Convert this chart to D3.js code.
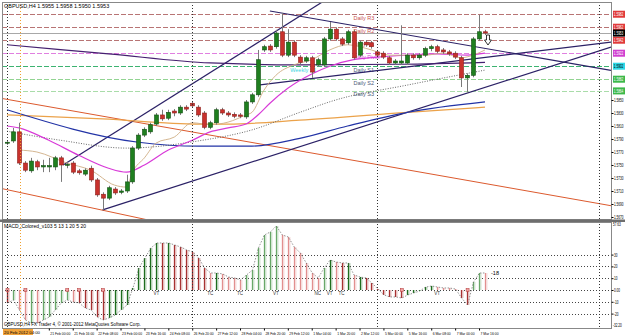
<!DOCTYPE html>
<html>
<head>
<meta charset="utf-8">
<title>GBPUSD,H4</title>
<script src="https://d3js.org/d3.v7.min.js"></script>
<style>
    body, html { margin: 0; padding: 0; background: #fff; }
    svg { display: block; font-family: "Liberation Sans", Arial, sans-serif; }
    .tick line { stroke: #000; }
</style>
</head>
<body>
<svg id="chart" width="625" height="335"></svg>
<script>
// H4 bars, bar 0 = Sun 19 Feb 2012 20:00
const opens = [1.5784,1.5787,1.5801,1.5753,1.5741,1.5755,1.5747,1.5747,1.5747,1.5761,1.5750,1.5753,1.5741,1.5736,1.5745,1.5727,1.5705,1.5699,1.5713,1.5708,1.5710,1.5724,1.5776,1.5796,1.5801,1.5813,1.5827,1.5822,1.5833,1.5830,1.5839,1.5845,1.5839,1.5830,1.5808,1.5815,1.5835,1.5830,1.5828,1.5827,1.5824,1.5847,1.5858,1.5927,1.5933,1.5932,1.5955,1.5919,1.5939,1.5916,1.5910,1.5915,1.5904,1.5904,1.5944,1.5959,1.5944,1.5938,1.5955,1.5919,1.5939,1.5938,1.5924,1.5922,1.5915,1.5907,1.5907,1.5907,1.5919,1.5915,1.5919,1.5929,1.5932,1.5927,1.5924,1.5922,1.5915,1.5884,1.5888,1.5944,1.5955];
const highs = [1.5788,1.5807,1.5815,1.5756,1.5761,1.5758,1.5758,1.5761,1.5764,1.5764,1.5755,1.5756,1.5744,1.5745,1.5749,1.5730,1.5708,1.5718,1.5716,1.5713,1.5735,1.5779,1.5799,1.5808,1.5815,1.5830,1.5835,1.5835,1.5836,1.5842,1.5842,1.5848,1.5842,1.5833,1.5818,1.5838,1.5838,1.5833,1.5831,1.5830,1.5850,1.5861,1.5927,1.5935,1.5936,1.5958,1.5984,1.5959,1.5942,1.5919,1.5918,1.5918,1.5915,1.5947,1.5970,1.5962,1.5947,1.5958,1.5958,1.5942,1.5942,1.5941,1.5927,1.5925,1.5918,1.5913,1.5965,1.5922,1.5922,1.5922,1.5932,1.5935,1.5935,1.5930,1.5927,1.5925,1.5918,1.5891,1.5947,1.5981,1.5958];
const lows = [1.5781,1.5784,1.5750,1.5739,1.5738,1.5742,1.5739,1.5739,1.5742,1.5724,1.5745,1.5736,1.5735,1.5733,1.5724,1.5701,1.5681,1.5696,1.5704,1.5705,1.5707,1.5721,1.5773,1.5793,1.5798,1.5810,1.5818,1.5819,1.5825,1.5827,1.5833,1.5838,1.5824,1.5805,1.5805,1.5812,1.5827,1.5824,1.5822,1.5822,1.5821,1.5844,1.5855,1.5924,1.5924,1.5929,1.5916,1.5916,1.5916,1.5905,1.5907,1.5884,1.5901,1.5901,1.5941,1.5941,1.5933,1.5935,1.5912,1.5916,1.5932,1.5929,1.5916,1.5913,1.5904,1.5904,1.5904,1.5904,1.5912,1.5912,1.5916,1.5925,1.5922,1.5921,1.5918,1.5913,1.5870,1.5861,1.5885,1.5941,1.5950];
const closes = [1.5785,1.5801,1.5753,1.5742,1.5756,1.5747,1.5749,1.5749,1.5761,1.5750,1.5751,1.5739,1.5738,1.5742,1.5727,1.5704,1.5699,1.5715,1.5707,1.5710,1.5724,1.5776,1.5796,1.5805,1.5812,1.5827,1.5821,1.5831,1.5830,1.5839,1.5836,1.5841,1.5827,1.5808,1.5815,1.5835,1.5830,1.5827,1.5825,1.5825,1.5847,1.5858,1.5912,1.5932,1.5927,1.5953,1.5919,1.5939,1.5919,1.5908,1.5915,1.5893,1.5912,1.5944,1.5959,1.5944,1.5936,1.5955,1.5915,1.5939,1.5935,1.5932,1.5919,1.5916,1.5907,1.5910,1.5910,1.5919,1.5915,1.5919,1.5929,1.5932,1.5925,1.5924,1.5921,1.5916,1.5884,1.5888,1.5944,1.5955,1.5953];

// moving averages, read as [bar, price]
const maMagenta = [[0,1.5810],[2,1.5807],[7,1.5788],[12,1.5765],[17,1.5745],[20,1.5739],[23,1.5750],[27,1.5773],[31,1.5788],[34,1.5801],[37,1.5807],[40,1.5813],[42,1.5827],[44,1.5845],[47,1.5868],[51,1.5890],[54,1.5902],[58,1.5912],[62,1.5916],[67,1.5919],[72,1.5921],[77,1.5919],[80,1.5922]];
const maTan = [[2,1.5773],[5,1.5770],[10,1.5753],[14,1.5742],[18,1.5719],[20,1.5716],[21,1.5739],[23,1.5761],[25,1.5784],[28,1.5793],[31,1.5815],[34,1.5812],[37,1.5816],[40,1.5827],[41,1.5831],[43,1.5865],[45,1.5888],[48,1.5904],[51,1.5912],[54,1.5927],[57,1.5935],[61,1.5927],[64,1.5919],[67,1.5919],[70,1.5919],[73,1.5922],[76,1.5915],[78,1.5919],[80,1.5927]];
const maDotted = [[0,1.5802],[9,1.5788],[20,1.5776],[32,1.5787],[41,1.5804],[49,1.5831],[55,1.5850],[67,1.5873],[80,1.5896]];
const maOrange = [[0,1.5827],[16,1.5821],[32,1.5813],[37,1.5813],[49,1.5819],[67,1.5831],[80,1.5839]];
const maBlue = [[0,1.5835],[22,1.5785],[32,1.5779],[41,1.5779],[49,1.5791],[57,1.5810],[67,1.5831],[80,1.5847]];
const maPurple = [[0,1.5935],[17,1.5921],[34,1.5907],[49,1.5904],[66,1.5905],[80,1.5908]];

// trend lines, two anchors each [bar, price]
const lineDown = [[44,1.5987],[100.9,1.5896]];
const lineChannelUp = [[9.4,1.5750],[49,1.5979]];
const lineChannelLow = [[16,1.5681],[101.3,1.5932]];
const lineRise = [[42,1.5873],[100.9,1.5939]];
const lineRedUpper = [[0,1.5851],[101.3,1.5687]];
const lineRedLower = [[0,1.5712],[22.3,1.5668]];

// pivot levels
const pivotNames = ["Daily R3","Daily R2","Daily R1","Daily Pivot","Daily S1","Daily S2","Daily S3"];
const pivotPrices = [1.5982,1.5962,1.5942,1.5922,1.5902,1.5882,1.5864];
const weeklyS1 = 1.5903;

// MACD histogram
const macdVals = [-11.0,-8.5,-16.9,-25.4,-28.0,-28.0,-25.4,-22.9,-16.9,-11.0,-8.5,-10.2,-11.0,-15.3,-16.9,-22.9,-25.4,-23.7,-21.2,-16.9,-12.7,1.7,18.6,27.1,35.6,39.8,39.8,39.8,38.1,36.4,33.9,32.2,27.1,18.6,14.4,14.4,13.6,11.0,10.2,8.5,12.7,16.9,35.6,46.6,49.2,54.2,46.6,44.9,36.4,31.4,22.9,14.4,10.2,18.6,25.4,23.7,22.9,22.9,12.7,11.0,10.2,5.9,0.8,-4.2,-5.9,-5.9,-6.8,-4.2,-2.5,-0.8,2.5,3.4,2.5,1.7,1.7,0.8,-6.8,-12.7,6.8,14.4,14.4];
const macdState = ["R","g","r","r","g","r","g","g","g","g","g","r","R","R","R","R","R","G","G","G","G","G","G","G","G","G","R","G","R","R","R","R","R","R","r","G","r","r","r","r","g","g","g","g","g","g","r","r","r","r","r","r","r","g","G","r","R","G","r","G","R","R","R","R","R","R","R","G","G","G","G","G","r","r","r","r","R","R","g","g","r"];
const macdMarkBars = [0,3,10,12,16,66,77];
const macdTagBars = [25,34,39,45,52,54,56,72];
const macdTags = ["VT","TC","TC","VT","NC","VT","TC","VT"];

// axes
const priceTicks = [1.5670,1.5690,1.5710,1.5730,1.5750,1.5770,1.5790,1.5810,1.5830,1.5850,1.5870,1.5890,1.5910,1.5930,1.5950,1.5970,1.5990];
const macdTicks = [30,20,10,0,-10,-20];
const macdRangeLabels = ["57.63","-32.20"];
const timeTickBars = [7,11,15,19,23,27,31,35,39,43,47,51,55,59,63,67,71,75,79];
const timeTickLabels = ["21 Feb 00:00","21 Feb 16:00","22 Feb 08:00","23 Feb 00:00","23 Feb 16:00","24 Feb 08:00","26 Feb 20:00","27 Feb 12:00","28 Feb 04:00","28 Feb 20:00","29 Feb 12:00","1 Mar 04:00","1 Mar 20:00","2 Mar 12:00","5 Mar 00:00","5 Mar 16:00","6 Mar 08:00","7 Mar 00:00","7 Mar 16:00"];
const separatorBars = [0,31,62,99];
const markedBar = 2;
const sellArrow = [80.5, 1.5950];

// layout
const plotL = 2, plotR = 611;
const mainTop = 2, mainBot = 219;
const macdTop = 222, macdBot = 328;
const squeeze = 0.68;   // right-axis labels are narrow in the original

const svg = d3.select("#chart");

const x = d3.scaleLinear().domain([0, closes.length - 1]).range([7, 485]);
const y = d3.scaleLinear().domain([1.56669, 1.60008]).range([mainBot, mainTop]);
const ym = d3.scaleLinear().domain([-32.2, 57.6]).range([macdBot, macdTop]);

const defs = svg.append("defs");
defs.append("clipPath").attr("id", "clipMain")
    .append("rect").attr("x", plotL).attr("y", mainTop).attr("width", plotR - plotL).attr("height", mainBot - mainTop);
defs.append("clipPath").attr("id", "clipMacd")
    .append("rect").attr("x", plotL).attr("y", macdTop).attr("width", plotR - plotL).attr("height", macdBot - macdTop);

const main = svg.append("g").attr("clip-path", "url(#clipMain)");
const macd = svg.append("g").attr("clip-path", "url(#clipMacd)");

// vertical separators across both panels
svg.append("g").selectAll("line")
    .data(separatorBars)
    .join("line")
    .attr("x1", d => Math.round(x(d)) + 0.5).attr("x2", d => Math.round(x(d)) + 0.5)
    .attr("y1", mainTop).attr("y2", macdBot)
    .attr("stroke", "#333").attr("stroke-width", 1).attr("stroke-dasharray", "1,2");

svg.append("line")
    .attr("x1", Math.round(x(markedBar)) + 1.5).attr("x2", Math.round(x(markedBar)) + 1.5)
    .attr("y1", mainTop).attr("y2", macdBot)
    .attr("stroke", "#f0a030").attr("stroke-width", 1).attr("stroke-dasharray", "1,2");

// pivot lines
const pivotColor = {"Daily R3": "#b87474", "Daily R2": "#b87474", "Daily R1": "#b87474", "Daily Pivot": "#e07fe0",
    "Daily S1": "#3cb371", "Daily S2": "#92d492", "Daily S3": "#a9dca9"};
const pivotText = {"Daily R3": "#c94f4f", "Daily R2": "#c94f4f", "Daily R1": "#c94f4f", "Daily Pivot": "#d24fd2",
    "Daily S1": "#4b5878", "Daily S2": "#4b5878", "Daily S3": "#4b5878"};

main.append("g").selectAll("line")
    .data(pivotNames)
    .join("line")
    .attr("x1", plotL).attr("x2", plotR)
    .attr("y1", (d, i) => Math.round(y(pivotPrices[i])) + 0.5)
    .attr("y2", (d, i) => Math.round(y(pivotPrices[i])) + 0.5)
    .attr("stroke", d => pivotColor[d]).attr("stroke-width", 1)
    .attr("stroke-dasharray", "5,2");

// current price line
const lastClose = closes[closes.length - 1];
main.append("line")
    .attr("x1", plotL).attr("x2", plotR)
    .attr("y1", Math.round(y(lastClose)) + 0.5)
    .attr("y2", Math.round(y(lastClose)) + 0.5)
    .attr("stroke", "#a8a8a8");

main.append("g").selectAll("text")
    .data(pivotNames)
    .join("text")
    .attr("x", x(58))
    .attr("y", (d, i) => y(pivotPrices[i]) + 5.5)
    .attr("font-size", 5.5)
    .attr("fill", d => pivotText[d])
    .text(d => d);

main.append("text")
    .attr("x", x(47.4)).attr("y", y(weeklyS1) + 6)
    .attr("font-size", 5.5).attr("fill", "#3fd6e0")
    .text("Weekly S1");

// trend lines
function extend(a, b, fromLeft) {
    const slope = (b[1] - a[1]) / (b[0] - a[0]);
    const i0 = fromLeft ? x.invert(plotL) : a[0];
    const i1 = x.invert(plotR);
    return [[i0, a[1] + slope * (i0 - a[0])], [i1, a[1] + slope * (i1 - a[0])]];
}
const trend = [
    {pts: extend(lineRedUpper[0], lineRedUpper[1], true), color: "#dc5a2e", w: 1},
    {pts: extend(lineRedLower[0], lineRedLower[1], true), color: "#dc5a2e", w: 1},
    {pts: extend(lineDown[0], lineDown[1], false), color: "#2b2166", w: 1.2},
    {pts: extend(lineChannelUp[0], lineChannelUp[1], false), color: "#2b2166", w: 1.2},
    {pts: extend(lineChannelLow[0], lineChannelLow[1], false), color: "#2b2166", w: 1.2},
    {pts: extend(lineRise[0], lineRise[1], false), color: "#2b2166", w: 1.2}
];
main.append("g").selectAll("line")
    .data(trend)
    .join("line")
    .attr("x1", d => x(d.pts[0][0])).attr("y1", d => y(d.pts[0][1]))
    .attr("x2", d => x(d.pts[1][0])).attr("y2", d => y(d.pts[1][1]))
    .attr("stroke", d => d.color).attr("stroke-width", d => d.w);

// moving averages
const maLine = d3.line().x(d => x(d[0])).y(d => y(d[1])).curve(d3.curveMonotoneX);
const mas = [
    {data: maOrange, color: "#eba24a", w: 1.2, dash: null},
    {data: maBlue, color: "#2233a6", w: 1.2, dash: null},
    {data: maPurple, color: "#452070", w: 1.2, dash: null},
    {data: maDotted, color: "#555", w: 0.9, dash: "1,1.5"},
    {data: maMagenta, color: "#d83ad8", w: 1.2, dash: null},
    {data: maTan, color: "#cfae84", w: 0.9, dash: null}
];
main.append("g").selectAll("path")
    .data(mas)
    .join("path")
    .attr("d", d => maLine(d.data))
    .attr("fill", "none")
    .attr("stroke", d => d.color)
    .attr("stroke-width", d => d.w)
    .attr("stroke-dasharray", d => d.dash);

// candles
const candles = main.append("g").selectAll("g")
    .data(closes.map((c, i) => ({i, o: opens[i], h: highs[i], l: lows[i], c})))
    .join("g");

candles.append("line")
    .attr("x1", d => Math.round(x(d.i)) + 0.5).attr("x2", d => Math.round(x(d.i)) + 0.5)
    .attr("y1", d => y(d.h)).attr("y2", d => y(d.l))
    .attr("stroke", "#7a7a7a");

candles.append("rect")
    .attr("x", d => Math.round(x(d.i)) - 1.5)
    .attr("y", d => y(Math.max(d.o, d.c)))
    .attr("width", 4)
    .attr("height", d => Math.max(1, Math.abs(y(d.o) - y(d.c))))
    .attr("fill", d => d.c >= d.o ? "#1f7f1f" : "#c8322d")
    .attr("stroke", d => d.c >= d.o ? "#0f4f0f" : "#8c1f1b")
    .attr("stroke-width", 0.6);

// sell arrow
const ax = x(sellArrow[0]), ay = y(sellArrow[1]);
svg.append("path")
    .attr("d", `M${ax - 1.5},${ay} h3 v5 h2 l-3.5,5 l-3.5,-5 h2 z`)
    .attr("fill", "#fff").attr("stroke", "#000").attr("stroke-width", 0.8);

// MACD grid
macd.append("g").selectAll("line")
    .data(macdTicks)
    .join("line")
    .attr("x1", plotL).attr("x2", plotR)
    .attr("y1", d => Math.round(ym(d)) + 0.5).attr("y2", d => Math.round(ym(d)) + 0.5)
    .attr("stroke", "#444").attr("stroke-dasharray", "1,2");

const macdColor = {G: "#1e6e1e", g: "#69a869", R: "#a83232", r: "#e28f8f"};

macd.append("g").selectAll("rect.bg")
    .data(macdVals)
    .join("rect")
    .attr("x", (d, i) => Math.round(x(i)) - 1)
    .attr("y", d => Math.min(ym(0), ym(d)))
    .attr("width", 4)
    .attr("height", d => Math.abs(ym(d) - ym(0)))
    .attr("fill", (d, i) => macdColor[macdState[i]])
    .attr("opacity", 0.15);

macd.append("g").selectAll("rect.bar")
    .data(macdVals)
    .join("rect")
    .attr("x", (d, i) => Math.round(x(i)))
    .attr("y", d => Math.min(ym(0), ym(d)))
    .attr("width", 1.2)
    .attr("height", d => Math.abs(ym(d) - ym(0)))
    .attr("fill", (d, i) => macdColor[macdState[i]]);

macd.append("path")
    .attr("d", d3.line().x((d, i) => x(i) + 0.5).y(d => ym(d))(macdVals))
    .attr("fill", "none").attr("stroke", "#666").attr("stroke-width", 0.7)
    .attr("stroke-dasharray", "1.5,1.5");

macd.append("g").selectAll("rect")
    .data(macdMarkBars)
    .join("rect")
    .attr("x", d => x(d) - 1).attr("y", ym(0) - 1.5)
    .attr("width", 3).attr("height", 3)
    .attr("fill", "#f0a0a0").attr("stroke", "#b03030").attr("stroke-width", 0.5);

macd.append("g").selectAll("text")
    .data(macdTagBars)
    .join("text")
    .attr("x", d => x(d)).attr("y", ym(0) + 5)
    .attr("text-anchor", "middle")
    .attr("font-size", 4.5).attr("fill", "#333")
    .text((d, i) => macdTags[i]);

svg.append("text")
    .attr("x", x(80) + 6).attr("y", ym(macdVals[80]) + 2)
    .attr("font-size", 5.5).attr("fill", "#000")
    .text("-18");

// panel frames and separator
svg.append("rect").attr("x", plotL + 0.5).attr("y", mainTop + 0.5)
    .attr("width", plotR - plotL).attr("height", mainBot - mainTop)
    .attr("fill", "none").attr("stroke", "#888");
svg.append("rect").attr("x", plotL + 0.5).attr("y", macdTop + 0.5)
    .attr("width", plotR - plotL).attr("height", macdBot - macdTop)
    .attr("fill", "none").attr("stroke", "#888");
svg.append("rect").attr("x", 0).attr("y", mainBot + 0.5)
    .attr("width", 625).attr("height", 2.5).attr("fill", "#6e6e6e");

// narrow text on the right axis
function narrowText(sel, x0) {
    sel.attr("x", x0 / squeeze).attr("transform", `scale(${squeeze},1)`);
}

// price axis, labels hidden where a coloured box sits on top
const boxPrices = pivotPrices.concat([lastClose]);
const freeTicks = priceTicks.filter(t => boxPrices.every(p => Math.abs(y(p) - y(t)) > 6));
const priceAxis = svg.append("g")
    .attr("transform", `translate(${plotR + 0.5},0)`)
    .call(d3.axisRight(y).tickValues(freeTicks).tickFormat(d3.format(".4f")).tickSize(2).tickPadding(1));
priceAxis.select(".domain").remove();
priceAxis.selectAll("text").attr("font-size", 4.6).attr("fill", "#000").call(narrowText, 2.5);

// coloured price boxes
const boxColor = ["#e03a3a","#e03a3a","#e03a3a","#d040d0","#2fd8e6","#3cb84a","#3cb84a"];
const boxes = pivotPrices.map((p, i) => ({p, bg: boxColor[i], fg: i === 4 ? "#000" : "#fff"}));
boxes.push({p: lastClose, bg: "#000", fg: "#fff"});
const boxG = svg.append("g").selectAll("g").data(boxes).join("g")
    .attr("transform", d => `translate(${plotR + 2},${y(d.p)})`);
boxG.append("rect").attr("x", 0).attr("y", -3.5).attr("width", 12).attr("height", 7).attr("fill", d => d.bg);
boxG.append("text").attr("y", 1.7).attr("font-size", 4.6).attr("fill", d => d.fg)
    .text(d => d3.format(".4f")(d.p))
    .call(narrowText, 0.8);

// MACD axis
const macdAxis = svg.append("g")
    .attr("transform", `translate(${plotR + 0.5},0)`)
    .call(d3.axisRight(ym).tickValues(macdTicks).tickFormat(d => d === 0 ? "0.00" : d).tickSize(2).tickPadding(1));
macdAxis.select(".domain").remove();
macdAxis.selectAll("text").attr("font-size", 4.6).attr("fill", "#000").call(narrowText, 2.5);

svg.append("g").selectAll("text")
    .data(macdRangeLabels)
    .join("text")
    .attr("y", (d, i) => i === 0 ? macdTop + 4 : macdBot - 1)
    .attr("font-size", 4.6).attr("fill", "#000")
    .text(d => d)
    .call(narrowText, plotR + 2);

// time axis
const timeAxis = svg.append("g")
    .attr("transform", `translate(0,${macdBot + 0.5})`)
    .call(d3.axisBottom(x).tickValues(timeTickBars).tickFormat((d, i) => timeTickLabels[i]).tickSize(2).tickPadding(1));
timeAxis.select(".domain").remove();
timeAxis.selectAll("text").attr("font-size", 4.3).attr("fill", "#000")
    .attr("text-anchor", "start").attr("dx", 1)
    .attr("textLength", d => timeTickLabels[timeTickBars.indexOf(d)].length > 11 ? 20 : 18)
    .attr("lengthAdjust", "spacingAndGlyphs");

svg.append("rect").attr("x", 3).attr("y", macdBot + 1).attr("width", 30).attr("height", 6).attr("fill", "#f2a33a");
svg.append("text").attr("x", 4).attr("y", macdBot + 5.8).attr("font-size", 4.3).attr("fill", "#000")
    .attr("textLength", 36).attr("lengthAdjust", "spacingAndGlyphs")
    .text("20 Feb 2012 04:00");

// titles
svg.append("text").attr("x", 4).attr("y", 8).attr("font-size", 5.5).attr("fill", "#000")
    .text(`GBPUSD,H4 ${opens[80].toFixed(4)} ${highs[80].toFixed(4)} ${lows[80].toFixed(4)} ${closes[80].toFixed(4)}`);
svg.append("text").attr("x", 4).attr("y", macdTop + 6).attr("font-size", 5).attr("fill", "#000")
    .text("MACD_Colored_v103 5 13 1 20 5 20");
svg.append("text").attr("x", 4).attr("y", macdBot - 2).attr("font-size", 4.5).attr("fill", "#000")
    .text("GBPUSD,H4 FX Trader 4, © 2001-2012 MetaQuotes Software Corp.");
</script>
</body>
</html>
